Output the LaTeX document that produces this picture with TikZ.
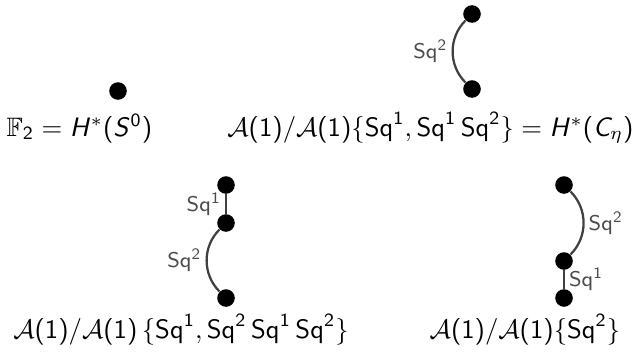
\documentclass[tikz,border=0pt]{standalone}
\usepackage{amssymb}
\usetikzlibrary{positioning}
% sans serif letters and digits in math
\DeclareSymbolFont{sfupright}{OT1}{cmss}{m}{n}
\DeclareSymbolFont{sfslanted}{OT1}{cmss}{m}{sl}
\DeclareMathSymbol{H}{\mathalpha}{sfslanted}{`H}
\DeclareMathSymbol{S}{\mathalpha}{sfslanted}{`S}
\DeclareMathSymbol{C}{\mathalpha}{sfslanted}{`C}
\DeclareMathSymbol{0}{\mathalpha}{sfupright}{`0}
\DeclareMathSymbol{1}{\mathalpha}{sfupright}{`1}
\DeclareMathSymbol{2}{\mathalpha}{sfupright}{`2}
\DeclareMathSymbol{(}{\mathopen}{sfupright}{`(}
\DeclareMathSymbol{)}{\mathclose}{sfupright}{`)}
\newcommand{\Sq}{\mathsf{Sq}}

\begin{document}
\sffamily
\begin{tikzpicture}[x=0.375pt, y=-0.375pt,
 dot/.style={circle, fill=black, inner sep=0pt, minimum size=6.6pt},
 sqedge/.style={draw=black!75, line width=0.85pt},
 sqlabel/.style={font=\footnotesize, text=black!70, inner sep=1.5pt}]

 \useasboundingbox (0,0) rectangle (636,353);

 % the sphere
 \node[dot] (s0) at (118,91) {};
 \node[anchor=base] (s0lab) at (79.5,136) {$\mathbb{F}_2 = H^*(S^0)$};

 % the cone on eta
 \node[dot] (ceta1) at (472,14) {};
 \node[dot] (ceta2) at (472,89) {};
 \draw[sqedge] (ceta1) to[bend right=45] node[left, sqlabel] {$\Sq^2$} (ceta2);
 \node[anchor=base] (cetalab) at (430.5,136)
   {$\mathcal{A}(1)/\mathcal{A}(1)\{\Sq^1, \Sq^1\,\Sq^2\} = H^*(C_\eta)$};

 % bottom left
 \node[dot] (a1) at (226,185) {};
 \node[dot] (a2) at (226,223) {};
 \node[dot] (a3) at (226,298) {};
 \draw[sqedge] (a1) -- node[left, sqlabel] {$\Sq^1$} (a2);
 \draw[sqedge] (a2) to[bend right=45] node[left, sqlabel] {$\Sq^2$} (a3);
 \node[anchor=base] (alab) at (181,338)
   {$\mathcal{A}(1)/\mathcal{A}(1)\,\{\Sq^1, \Sq^2\,\Sq^1\,\Sq^2\}$};

 % bottom right
 \node[dot] (b1) at (564,185) {};
 \node[dot] (b2) at (564,261) {};
 \node[dot] (b3) at (564,298) {};
 \draw[sqedge] (b1) to[bend left=45] node[right, sqlabel] {$\Sq^2$} (b2);
 \draw[sqedge] (b2) -- node[right, sqlabel] {$\Sq^1$} (b3);
 \node[anchor=base] (blab) at (525,338)
   {$\mathcal{A}(1)/\mathcal{A}(1)\{\Sq^2\}$};

\end{tikzpicture}
\end{document}
